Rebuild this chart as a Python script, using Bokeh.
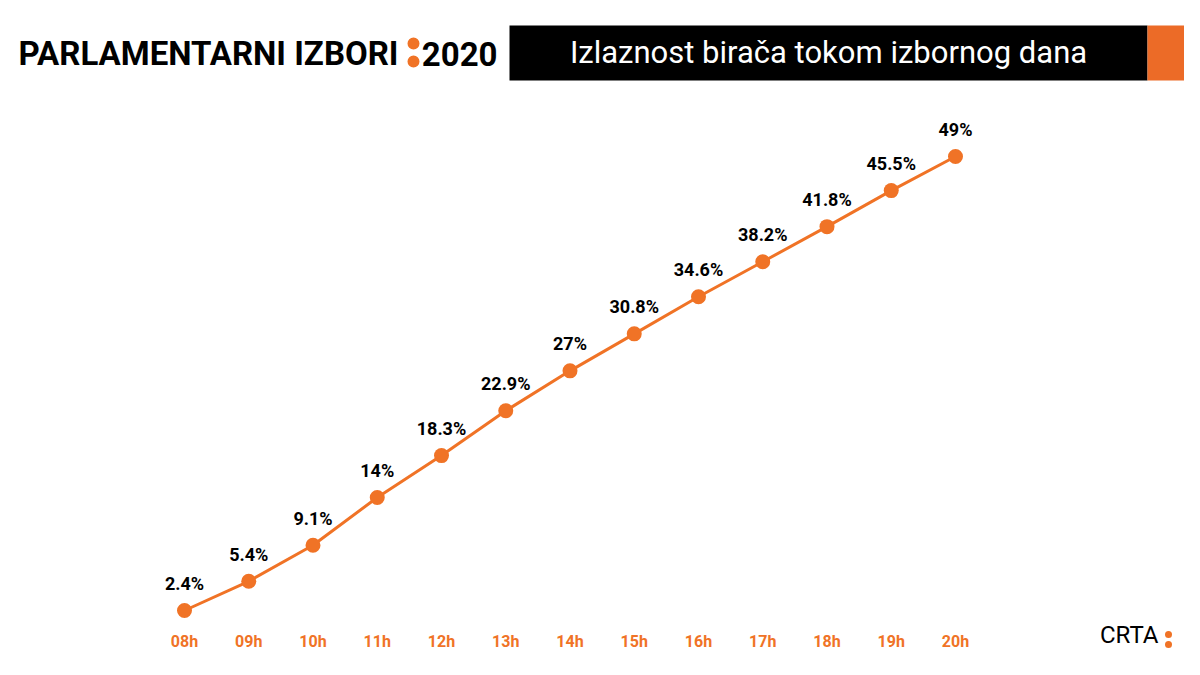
from bokeh.plotting import figure
from bokeh.models import ColumnDataSource, Range1d, Label, BoxAnnotation
from bokeh.core.properties import value
from bokeh.embed import file_html
from bokeh.resources import INLINE

hours = ["08h", "09h", "10h", "11h", "12h", "13h", "14h", "15h", "16h", "17h", "18h", "19h", "20h"]
turnout = [2.4, 5.4, 9.1, 14.0, 18.3, 22.9, 27.0, 30.8, 34.6, 38.2, 41.8, 45.5, 49.0]
labels = ["2.4%", "5.4%", "9.1%", "14%", "18.3%", "22.9%", "27%", "30.8%", "34.6%", "38.2%", "41.8%", "45.5%", "49%"]
header_title = "PARLAMENTARNI IZBORI"
header_year = "2020"
subtitle = "Izlaznost birača tokom izbornog dana"
brand = "CRTA"

ORANGE = "#F07326"
W, H = 1184, 659

# pixel mapping helpers (picture pixel -> data), used for decoration placement only
X0_PX, DX_PX = 184.0, 64.25
Y0_PX, DY_PX = 610.0, 9.742
def px_x(px):
    return (px - X0_PX) / DX_PX
def px_y(py):
    return 2.4 + (Y0_PX - py) / DY_PX

x_idx = list(range(len(hours)))
src = ColumnDataSource(dict(x=x_idx, y=turnout, lab=labels, hour=hours,
                            base=[px_y(641)] * len(hours)))

p = figure(width=W, height=H, output_backend="svg", toolbar_location=None,
           x_range=Range1d(px_x(0), px_x(W)), y_range=Range1d(px_y(H), px_y(0)),
           min_border=0, min_border_left=0, min_border_right=0,
           min_border_top=0, min_border_bottom=0)
p.axis.visible = False
p.grid.visible = False
p.outline_line_color = None
p.background_fill_color = "white"
p.border_fill_color = "white"

p.line("x", "y", source=src, line_color=ORANGE, line_width=3)
p.scatter("x", "y", source=src, size=15, fill_color=ORANGE, line_color=None)

p.text("x", "y", text="lab", source=src, text_align="center", text_baseline="alphabetic",
       y_offset=-27, text_font=value("Roboto"), text_font_style="bold",
       text_font_size="18px", text_color="black")

p.text("x", "base", text="hour", source=src, text_align="center", text_baseline="middle",
       text_font=value("Roboto"), text_font_style="bold",
       text_font_size="16px", text_color=ORANGE)

# header
p.add_layout(BoxAnnotation(left=px_x(509), right=px_x(1147), top=px_y(25), bottom=px_y(80),
                           fill_color="black", fill_alpha=1, line_color=None))
p.add_layout(BoxAnnotation(left=px_x(1147), right=px_x(1186), top=px_y(25), bottom=px_y(80),
                           fill_color="#EC6B27", fill_alpha=1, line_color=None))
p.add_layout(Label(x=px_x(828), y=px_y(52), text=subtitle, text_align="center",
                   text_baseline="middle", text_color="white",
                   text_font="Roboto", text_font_size="31px"))
p.add_layout(Label(x=px_x(18), y=px_y(53), text=header_title, text_align="left",
                   text_baseline="middle", text_color="black",
                   text_font="Roboto", text_font_style="bold",
                   text_font_size="33px"))
p.add_layout(Label(x=px_x(497), y=px_y(53), text=header_year, text_align="right",
                   text_baseline="middle", text_color="black",
                   text_font="Roboto", text_font_style="bold",
                   text_font_size="33px"))
# orange colon marks of the header and the brand
p.scatter([px_x(413), px_x(413)], [px_y(43), px_y(61)], size=12,
          fill_color=ORANGE, line_color=None)
p.scatter([px_x(1168), px_x(1168)], [px_y(634), px_y(644)], size=7,
          fill_color=ORANGE, line_color=None)
# brand
p.add_layout(Label(x=px_x(1158), y=px_y(634), text=brand, text_align="right",
                   text_baseline="middle", text_color="black",
                   text_font="Roboto", text_font_size="24px"))

open("out.html", "w").write(file_html(p, INLINE))
